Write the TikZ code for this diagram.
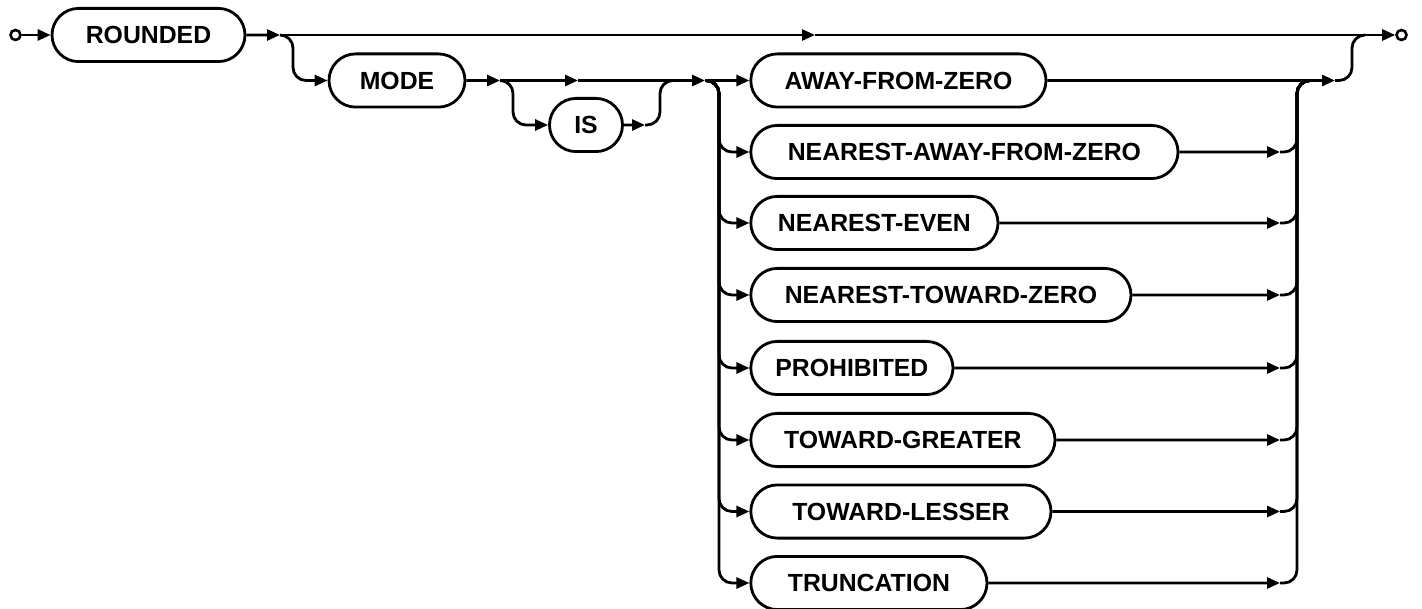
\documentclass[tikz,border=0pt]{standalone}
\usepackage{fontspec}
\setmainfont{Liberation Sans}
\usetikzlibrary{arrows.meta, shapes.misc}

\begin{document}
\begin{tikzpicture}[
  x=1pt, y=-1pt,
  font=\bfseries\fontsize{24.8}{30}\selectfont,
  keyword/.style={
    draw, rounded rectangle, line width=2.8pt, inner xsep=1pt,
    minimum height=53.2pt
  },
  rail/.style={line width=2.8pt, rounded corners=13pt},
  arrow/.style={rail, -{Triangle[length=13pt, width=11pt]}},
  terminal/.style={draw, circle, line width=2.6pt, minimum size=10pt, inner sep=0pt},
]
\useasboundingbox (0,0) rectangle (1422,609);

% start, stop and the first keywords
\node[terminal] (start) at (15.5,35) {};
\node[terminal] (stop) at (1401.5,35) {};
\node[keyword, minimum width=195pt] (rounded) at (148.5,35) {ROUNDED};
\node[keyword, minimum width=138pt] (mode) at (397,80.5) {MODE};
\node[keyword, minimum width=75pt] (is) at (586,125) {IS};

% rounding modes
\node[keyword, anchor=west, minimum width=297.2pt] (away) at (749.4,80.5) {AWAY-FROM-ZERO};
\node[keyword, anchor=west, minimum width=429.2pt] (nearaway) at (749.4,152) {NEAREST-AWAY-FROM-ZERO};
\node[keyword, anchor=west, minimum width=249.2pt] (neareven) at (749.4,223) {NEAREST-EVEN};
\node[keyword, anchor=west, minimum width=382.2pt] (neartoward) at (749.4,295) {NEAREST-TOWARD-ZERO};
\node[keyword, anchor=west, minimum width=204.2pt] (prohibited) at (749.4,368) {PROHIBITED};
\node[keyword, anchor=west, minimum width=306.2pt] (greater) at (749.4,440) {TOWARD-GREATER};
\node[keyword, anchor=west, minimum width=302.2pt] (lesser) at (749.4,511.5) {TOWARD-LESSER};
\node[keyword, anchor=west, minimum width=238.2pt] (truncation) at (749.4,583) {TRUNCATION};

% junctions
\coordinate (split) at (280,35);
\coordinate (topmid) at (815,35);
\coordinate (modeout) at (500,80.5);
\coordinate (ismid) at (578,80.5);
\coordinate (isout) at (645,125);
\coordinate (isjoin) at (673,80.5);
\coordinate (fork) at (705,80.5);
\coordinate (lbus) at (719,80.5);
\coordinate (rin) at (1280,80.5);
\coordinate (rbus) at (1297,80.5);
\coordinate (rbusend) at (1311,80.5);
\coordinate (rout) at (1335,80.5);
\coordinate (topjoin) at (1365,35);

% main line
\draw[arrow] (start) -- (rounded);
\draw[arrow] (rounded) -- (split);
\draw[arrow] (split) -- (topmid);
\draw[arrow] (topmid) -- (stop);

% MODE [IS]
\draw[arrow] (split) -- ++(13,0) |- (mode.west);
\draw[arrow] (mode) -- (modeout);
\draw[arrow] (modeout) -- (ismid);
\draw[arrow] (ismid) -- (fork);
\draw[arrow] (modeout) -- ++(13,0) |- (is.west);
\draw[arrow] (is) -- (isout);
\draw[rail] (isout) -| ([xshift=-13pt]isjoin) -- (isjoin);

% fan out
\draw[arrow] (fork) -- (away);
\draw[arrow] (fork) -| (lbus |- nearaway.west) -- (nearaway.west);
\draw[arrow] (fork) -| (lbus |- neareven.west) -- (neareven.west);
\draw[arrow] (fork) -| (lbus |- neartoward.west) -- (neartoward.west);
\draw[arrow] (fork) -| (lbus |- prohibited.west) -- (prohibited.west);
\draw[arrow] (fork) -| (lbus |- greater.west) -- (greater.west);
\draw[arrow] (fork) -| (lbus |- lesser.west) -- (lesser.west);
\draw[arrow] (fork) -| (lbus |- truncation.west) -- (truncation.west);

% fan in
\draw[arrow] (away) -- (rout);
\draw[arrow] (nearaway) -- (rin |- nearaway.east);
\draw[arrow] (neareven) -- (rin |- neareven.east);
\draw[arrow] (neartoward) -- (rin |- neartoward.east);
\draw[arrow] (prohibited) -- (rin |- prohibited.east);
\draw[arrow] (greater) -- (rin |- greater.east);
\draw[arrow] (lesser) -- (rin |- lesser.east);
\draw[arrow] (truncation) -- (rin |- truncation.east);
\draw[rail] (rin |- nearaway.east) -| (rbus) -- (rbusend);
\draw[rail] (rin |- neareven.east) -| (rbus) -- (rbusend);
\draw[rail] (rin |- neartoward.east) -| (rbus) -- (rbusend);
\draw[rail] (rin |- prohibited.east) -| (rbus) -- (rbusend);
\draw[rail] (rin |- greater.east) -| (rbus) -- (rbusend);
\draw[rail] (rin |- lesser.east) -| (rbus) -- (rbusend);
\draw[rail] (rin |- truncation.east) -| (rbus) -- (rbusend);
\draw[rail] (rout) -| ([xshift=-13pt]topjoin) -- (topjoin);

\end{tikzpicture}
\end{document}
